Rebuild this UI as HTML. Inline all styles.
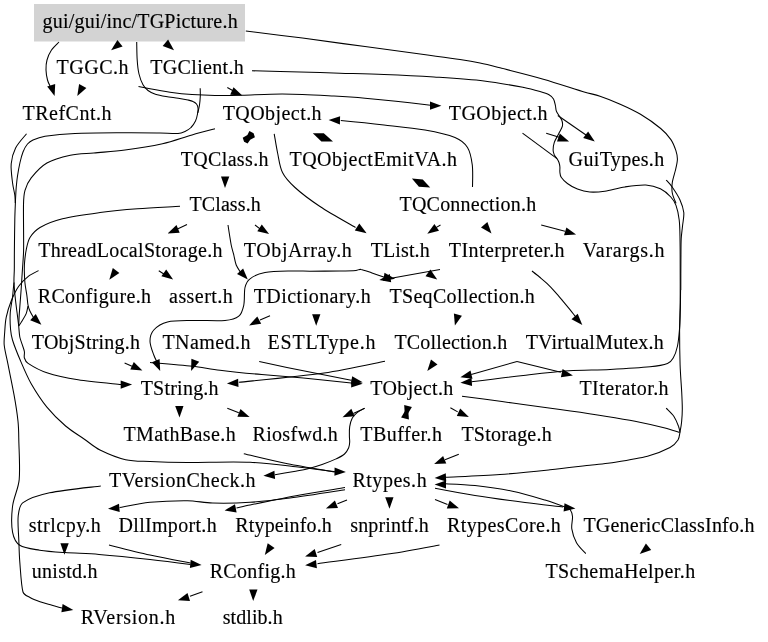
<!DOCTYPE html><html><head><meta charset="utf-8"><style>html,body{margin:0;padding:0;background:#fff}svg{display:block;will-change:transform}text{font-family:"Liberation Serif",serif;font-size:20.0px;fill:#000;stroke:#000;stroke-width:0.15px}path.e{fill:none;stroke:#000;stroke-width:1.05}polygon{fill:#000;stroke:none}</style></head><body>
<svg width="768" height="642" viewBox="0 0 768 642">
<rect x="0" y="0" width="768" height="642" fill="#fff"/>
<rect x="34" y="4" width="211" height="37.5" fill="#d3d3d3"/>
<path class="e" d="M59.0,42.0 C57.8,43.3 53.5,47.0 51.5,50.0 C49.5,53.0 47.9,56.7 47.0,60.0 C46.1,63.2 45.9,66.7 46.0,70.0 C46.1,73.3 46.8,77.2 47.5,80.0 C48.1,82.5 50.0,85.8 50.5,87.0"/>
<path class="e" d="M136.7,42.0 C136.8,45.0 136.8,54.7 137.2,60.0 C137.5,64.7 138.0,69.9 139.0,74.0 C139.9,77.7 141.5,82.0 143.0,84.8 C144.2,87.0 146.0,89.0 148.0,90.5 C150.1,92.1 152.8,93.3 155.4,94.2 C158.4,95.2 162.4,95.9 166.0,96.5 C169.8,97.2 174.6,97.7 178.3,98.3 C181.5,98.8 185.6,99.5 188.0,100.0 C189.7,100.4 191.6,100.8 193.0,101.5 C194.3,102.1 195.7,102.9 196.5,104.0 C197.3,105.1 197.9,106.6 198.0,108.0 C198.2,109.7 197.9,112.0 197.5,114.0 C197.1,116.2 196.6,118.8 195.5,121.0 C194.4,123.2 192.8,125.8 191.0,127.5 C189.3,129.2 187.2,130.5 185.0,131.5 C182.8,132.5 180.4,133.4 178.0,133.5 C173.8,133.8 166.0,133.1 160.0,133.0 C151.2,132.9 136.7,132.7 125.0,132.8 C110.8,132.9 88.3,132.9 75.0,133.5 C65.0,133.9 52.0,135.2 45.0,136.2 C40.9,136.9 35.9,138.7 33.0,140.0 C30.9,140.9 29.0,142.3 27.5,144.0 C25.8,146.0 24.1,149.2 23.0,152.0 C21.8,155.1 20.8,159.0 20.0,162.5 C19.1,166.5 18.1,171.8 17.5,176.0 C16.9,179.8 16.6,183.7 16.2,187.5 C15.9,191.5 15.7,195.8 15.5,200.0 C15.3,205.4 14.9,213.3 14.8,220.0 C14.6,228.3 14.5,241.7 14.4,250.0 C14.3,256.7 14.4,264.6 14.3,270.0 C14.2,274.2 13.8,278.3 14.0,282.5 C14.2,287.7 14.9,294.8 15.6,301.0 C16.3,307.2 17.5,315.8 18.0,320.0 C18.2,322.0 18.5,324.0 18.7,326.0 C19.0,328.8 19.2,333.8 19.8,337.0 C20.4,339.9 21.7,342.9 22.5,345.4 C23.2,347.5 24.1,349.6 24.4,351.7 C24.7,353.8 23.8,356.1 24.4,358.0 C25.0,359.9 26.3,362.2 28.1,363.4 C31.9,365.9 40.2,370.6 46.9,372.8 C55.2,375.5 67.6,378.1 78.1,379.8 C90.4,381.8 113.8,383.8 121.0,384.6"/>
<path class="e" d="M200.2,88.3 C200.2,89.6 200.4,93.4 200.3,96.0 C200.2,98.8 199.9,102.2 199.5,105.0 C199.1,107.7 198.1,111.7 197.8,113.0"/>
<path class="e" d="M138.5,86.5 C140.4,86.9 146.2,88.1 150.0,88.8 C155.2,89.8 163.3,91.3 170.0,92.2 C177.0,93.2 184.6,94.1 192.0,94.6 C199.5,95.1 207.3,95.4 215.0,95.5 C223.3,95.6 233.0,95.5 242.0,95.3 C251.3,95.1 261.3,94.3 271.0,94.2 C281.1,94.0 292.0,94.1 302.5,94.4 C313.0,94.7 323.6,95.4 334.0,96.0 C344.3,96.6 354.7,97.3 365.0,98.2 C375.3,99.1 385.7,100.1 396.0,101.2 C406.9,102.4 424.8,104.5 430.5,105.2"/>
<path class="e" d="M227.3,87.5 L233.5,91.0"/>
<path class="e" d="M245.8,31.0 C255.2,32.2 283.6,35.6 302.5,38.1 C322.4,40.7 344.2,43.8 365.0,46.6 C385.8,49.4 411.7,52.8 427.5,55.0 C438.3,56.5 451.2,58.2 460.0,59.6 C466.7,60.6 473.4,61.7 480.0,63.1 C486.9,64.5 494.5,66.5 501.7,68.3 C512.2,71.0 529.5,75.2 543.3,79.2 C557.2,83.2 575.5,89.4 585.0,92.2 C590.0,93.7 595.1,94.5 600.0,96.2 C605.9,98.2 613.6,101.2 620.2,104.2 C627.0,107.2 634.0,110.4 640.5,114.3 C647.2,118.3 655.6,124.3 660.7,128.5 C664.6,131.7 668.4,135.9 670.9,139.6 C673.2,142.9 674.8,147.4 675.9,150.7 C676.8,153.5 677.5,156.5 677.4,159.5 C677.3,162.7 676.3,166.5 675.5,170.0 C674.6,173.8 672.8,178.7 672.3,182.5 C671.8,186.0 671.7,189.6 672.3,193.0 C672.9,196.5 675.4,201.6 676.0,203.3"/>
<path class="e" d="M252.0,70.8 C260.0,71.0 285.3,71.6 300.0,72.0 C313.3,72.4 326.7,72.8 340.0,73.2 C354.0,73.6 369.3,73.9 384.0,74.5 C399.7,75.1 417.3,75.9 434.0,77.0 C450.7,78.1 469.0,79.2 484.0,81.0 C497.4,82.6 514.7,85.8 524.0,87.5 C529.4,88.5 535.8,90.3 540.0,91.5 C543.1,92.4 546.8,93.5 549.0,94.7 C550.8,95.7 552.5,97.2 553.5,99.0 C554.6,100.9 555.0,103.9 555.5,106.0 C555.9,107.8 555.7,109.8 556.5,111.5 C557.5,113.8 560.7,117.5 561.7,120.0 C562.5,121.9 562.8,124.2 562.4,126.2 C561.9,128.5 559.9,131.2 558.7,133.7 C557.4,136.4 555.2,139.7 554.3,142.4 C553.5,144.8 553.1,147.8 553.1,149.9 C553.1,151.6 553.6,153.3 554.3,154.9 C555.0,156.5 556.6,157.9 557.4,159.2 C558.0,160.2 558.6,161.3 559.0,162.5 C559.4,163.8 559.8,165.5 559.9,167.0 C560.0,168.6 559.7,170.6 559.9,172.3 C560.1,174.0 560.2,175.9 561.2,177.3 C562.5,179.2 565.0,181.8 567.4,183.5 C570.1,185.5 573.8,187.7 577.4,189.1 C581.1,190.5 585.6,191.7 589.8,192.0 C594.4,192.3 599.8,191.9 604.8,191.2 C610.7,190.3 618.2,187.9 625.0,186.9 C631.8,185.9 639.9,184.7 645.8,185.0 C650.8,185.3 656.2,186.8 660.4,188.8 C664.4,190.7 668.2,194.2 670.8,197.0 C673.1,199.4 674.9,202.3 676.0,205.4 C677.4,209.2 678.6,215.1 679.2,220.0 C679.9,225.6 679.9,232.5 680.0,238.8 C680.2,247.1 680.2,259.6 680.2,270.0 C680.2,280.7 680.3,292.7 680.2,303.0 C680.1,312.7 679.6,322.3 679.6,332.0 C679.6,342.3 679.8,355.0 680.1,365.0 C680.4,374.0 681.3,384.7 681.7,392.0 C682.0,397.7 682.3,404.0 682.3,409.0 C682.3,413.3 682.0,418.2 681.6,422.0 C681.3,425.4 680.3,430.3 680.0,432.0"/>
<path class="e" d="M680.6,290.0 C680.5,293.3 680.5,303.7 680.3,310.0 C680.1,316.0 680.1,322.0 679.6,328.0 C679.1,334.0 678.6,341.0 677.5,346.0 C676.6,350.2 674.9,355.1 673.2,358.0 C671.9,360.3 670.0,362.6 667.5,363.5 C663.6,365.0 655.9,366.2 650.0,366.8 C640.4,367.8 623.3,368.8 610.0,369.5 C596.5,370.2 582.6,369.9 569.0,370.8 C554.5,371.8 538.5,373.7 523.3,375.4 C507.0,377.2 480.1,380.6 471.5,381.7"/>
<path class="e" d="M680.0,432.0 C679.7,433.3 679.5,437.7 678.0,440.0 C676.3,442.6 673.2,445.8 670.0,447.5 C664.9,450.2 655.3,454.2 647.5,456.2 C637.5,458.8 619.2,461.5 610.0,463.0 C604.0,463.9 598.0,464.3 592.0,465.0 C582.0,466.1 564.0,468.4 550.0,469.8 C534.7,471.4 516.7,473.3 500.0,474.5 C482.6,475.8 454.6,476.8 445.5,477.3"/>
<path class="e" d="M462.0,396.2 C468.7,397.1 491.8,400.1 502.0,401.5 C509.1,402.5 516.2,403.6 523.3,404.6 C533.0,405.9 547.8,407.8 560.0,409.5 C572.4,411.2 585.0,413.0 597.5,415.0 C610.0,417.0 623.8,419.1 635.0,421.2 C645.1,423.2 657.6,426.1 665.0,428.0 C669.9,429.2 677.1,431.8 679.5,432.5"/>
<path class="e" d="M666.2,408.2 C667.5,409.6 671.7,413.2 673.8,416.2 C675.8,419.2 677.5,423.5 678.5,426.2 C679.3,428.2 679.8,431.5 680.0,432.5"/>
<path class="e" d="M666.2,180.0 C667.3,181.2 670.7,184.8 672.5,187.5 C674.8,190.8 678.1,195.8 680.0,200.0 C681.8,204.0 683.3,208.2 683.8,212.5 C684.2,216.9 682.9,221.9 682.5,226.2 C682.1,230.4 681.4,234.6 681.2,238.8 C680.9,244.4 681.0,252.9 680.9,260.0 C680.8,268.5 680.8,285.0 680.8,290.0"/>
<path class="e" d="M557.8,115.5 L586.0,135.0"/>
<path class="e" d="M546.2,133.2 L560.0,137.5"/>
<path class="e" d="M522.5,133.2 L557.0,158.7"/>
<path class="e" d="M472.5,187.0 C472.5,183.3 473.1,171.6 472.3,165.0 C471.5,159.0 470.4,152.1 467.5,147.5 C464.7,143.0 459.9,139.5 455.0,137.5 C447.9,134.6 435.2,131.8 425.0,130.0 C413.2,127.9 397.7,126.5 384.0,125.0 C370.0,123.4 348.0,121.2 340.8,120.5"/>
<path class="e" d="M274.2,133.8 C274.8,136.9 276.2,146.3 277.5,152.5 C278.9,159.0 279.6,166.7 282.5,172.5 C285.4,178.3 290.2,183.1 295.0,187.5 C301.2,193.2 311.3,200.7 320.0,206.5 C330.1,213.2 349.6,224.0 355.5,227.5"/>
<path class="e" d="M215.0,128.8 C211.2,129.8 199.6,132.8 192.0,135.0 C183.2,137.5 172.5,141.5 162.5,143.8 C151.3,146.2 136.5,148.5 125.0,150.0 C114.6,151.4 102.9,152.1 93.8,153.0 C85.9,153.7 78.0,153.6 70.3,155.2 C62.5,156.9 53.4,159.2 46.9,163.0 C40.7,166.6 34.9,173.2 31.2,177.8 C28.3,181.4 26.3,185.9 25.0,190.3 C23.7,194.7 23.6,199.7 23.5,204.4 C23.3,214.3 23.8,239.1 23.6,250.0 C23.5,256.7 22.8,263.6 22.4,270.0 C22.0,276.2 21.6,282.5 21.2,288.7 C20.7,296.0 19.7,307.4 19.3,313.6 C19.0,317.7 18.8,323.9 18.7,326.0"/>
<path class="e" d="M180.0,206.2 C172.9,206.7 150.8,207.7 137.5,208.8 C125.0,209.7 112.5,210.8 100.0,212.5 C87.5,214.2 72.5,216.2 62.5,218.8 C54.7,220.7 45.4,224.4 40.0,227.5 C35.9,229.9 32.3,233.8 30.0,237.5 C27.7,241.2 27.1,245.9 26.2,250.0 C25.4,253.9 24.9,258.7 24.6,262.0 C24.3,264.7 24.3,267.3 24.3,270.0 C24.4,273.4 24.5,278.3 24.9,282.5 C25.3,286.7 26.3,291.2 26.8,295.0 C27.3,298.3 27.5,302.3 28.0,305.0 C28.4,307.1 29.0,309.1 29.9,311.0 C30.9,313.2 33.1,316.8 33.8,318.0"/>
<path class="e" d="M28.0,306.0 C27.7,307.3 27.2,311.2 26.2,313.6 C25.1,316.3 22.4,320.2 21.2,322.3 C20.4,323.6 19.1,325.4 18.7,326.0"/>
<path class="e" d="M26.5,133.8 C24.7,136.1 18.1,143.0 15.6,148.0 C13.1,152.9 11.7,158.3 11.2,163.8 C10.7,169.5 11.9,177.3 12.5,182.5 C13.0,186.7 14.3,191.6 14.8,195.0 C15.2,197.6 15.2,201.7 15.3,203.0"/>
<path class="e" d="M14.0,282.5 C13.9,283.8 13.4,287.5 13.2,290.0 C13.0,292.5 12.8,294.9 12.5,297.4 C12.0,301.3 10.5,308.2 10.2,313.6 C9.9,319.0 10.2,325.4 10.6,329.8 C10.9,333.2 11.5,336.7 12.5,340.0 C14.1,345.1 17.4,353.6 20.3,360.3 C23.4,367.6 27.0,376.2 31.2,383.8 C35.7,391.6 41.2,400.2 46.9,407.2 C52.5,414.1 59.3,420.7 65.6,426.0 C71.4,431.0 78.7,435.2 84.4,439.2 C89.6,442.8 94.3,447.2 100.0,450.0 C106.9,453.4 117.3,457.8 125.6,459.7 C133.5,461.5 141.9,461.1 150.0,461.5 C160.3,462.0 175.0,462.4 187.5,462.5 C204.2,462.6 231.2,461.5 250.0,462.3 C266.7,463.0 285.8,465.7 300.0,467.3 C311.7,468.6 329.2,471.0 335.0,471.7"/>
<path class="e" d="M38.6,270.6 C36.9,271.5 31.6,273.8 28.6,276.2 C25.3,278.8 21.4,282.4 18.7,286.2 C15.8,290.3 13.3,295.9 11.2,301.0 C9.1,306.2 7.3,312.1 6.2,317.3 C5.2,322.2 5.0,327.7 4.7,332.3 C4.4,336.5 3.8,340.8 4.2,345.0 C4.7,350.2 6.6,357.3 7.8,363.4 C9.4,371.7 12.3,385.1 14.0,394.7 C15.6,403.5 17.2,413.7 18.0,421.2 C18.7,427.5 18.7,433.7 18.8,440.0 C19.0,449.7 20.2,468.6 19.2,479.6 C18.4,488.6 13.7,497.2 12.6,506.0 C11.5,514.7 11.4,525.9 12.6,532.4 C13.5,537.2 15.7,542.6 19.8,545.3 C24.3,548.3 33.0,549.1 39.7,550.2 C47.2,551.4 56.5,552.0 65.0,552.6 C74.9,553.3 87.7,553.5 99.0,554.4 C113.2,555.5 134.8,557.7 150.0,559.4 C163.5,560.9 183.8,563.6 190.5,564.5"/>
<path class="e" d="M100.8,486.0 C92.3,487.1 62.6,490.0 49.6,492.8 C40.3,494.8 28.2,498.8 23.0,502.7 C19.2,505.5 18.7,511.3 18.2,516.0 C17.5,522.2 18.5,532.3 18.8,540.0 C19.1,547.3 19.2,554.7 19.8,562.0 C20.5,570.7 21.3,586.1 23.0,592.0 C23.8,594.9 27.4,596.0 30.0,597.5 C32.8,599.1 36.6,600.5 40.0,601.7 C43.7,603.0 48.3,604.2 52.0,605.3 C55.3,606.3 60.3,607.5 62.0,608.0"/>
<path class="e" d="M109.0,545.0 C115.8,546.7 136.4,552.0 150.0,555.0 C163.4,558.0 183.8,561.7 190.5,563.0"/>
<path class="e" d="M345.0,489.7 C335.8,491.1 305.8,495.9 290.0,498.0 C276.7,499.8 262.9,501.5 250.0,502.3 C237.5,503.1 222.9,503.3 212.5,503.0 C204.1,502.8 195.9,500.8 187.5,500.7 C177.1,500.6 161.3,501.2 150.0,502.3 C139.8,503.3 124.7,506.6 119.6,507.5"/>
<path class="e" d="M345.0,487.5 C337.5,488.8 315.0,492.2 300.0,495.0 C284.2,497.9 260.6,502.8 250.0,505.0 C245.5,505.9 238.8,507.5 236.5,508.0"/>
<path class="e" d="M347.0,500.0 L337.5,503.8"/>
<path class="e" d="M435.0,499.5 L447.5,504.5"/>
<path class="e" d="M435.0,488.2 C441.7,489.5 461.6,493.4 475.0,495.5 C490.0,497.9 510.3,500.6 525.0,502.5 C537.6,504.2 556.7,506.2 563.0,507.0"/>
<path class="e" d="M585.8,553.7 C584.2,551.9 578.8,546.9 576.5,542.8 C574.2,538.7 572.5,533.3 571.8,528.9 C571.2,524.8 572.8,519.7 572.5,516.5 C572.3,514.1 571.3,511.2 570.3,509.7 C569.4,508.4 567.7,508.0 566.2,507.5 C562.0,505.9 552.2,502.2 545.0,500.0 C536.0,497.3 523.5,493.5 512.5,491.2 C500.8,488.8 486.2,486.8 475.0,485.5 C465.2,484.4 450.4,484.0 445.5,483.8"/>
<path class="e" d="M458.8,454.2 L445.0,459.8"/>
<path class="e" d="M243.8,453.8 C251.0,455.4 272.8,460.8 287.5,463.8 C302.6,466.8 326.7,470.6 334.5,472.0"/>
<path class="e" d="M364.2,408.4 C363.0,409.1 359.1,411.0 357.1,412.6 C355.2,414.2 353.4,416.0 352.2,418.2 C351.0,420.5 350.1,423.7 349.7,426.6 C349.2,429.7 349.4,433.9 349.4,436.5 C349.4,438.3 349.8,440.2 349.7,442.0 C349.6,443.9 349.5,445.9 348.7,447.7 C347.8,449.7 346.4,452.3 344.5,454.0 C342.4,455.9 339.0,457.5 336.1,458.9 C332.4,460.6 326.8,462.9 322.1,464.5 C317.5,466.1 312.7,467.5 308.0,468.7 C303.4,469.9 298.7,470.6 294.0,471.5 C288.5,472.5 278.2,474.2 275.0,474.7"/>
<path class="e" d="M364.8,408.3 L353.3,413.5"/>
<path class="e" d="M450.4,407.7 L457.7,411.9"/>
<path class="e" d="M227.3,408.3 L238.8,412.8"/>
<path class="e" d="M124.6,363.0 L132.0,366.3"/>
<path class="e" d="M150.0,362.5 C157.1,363.1 180.8,365.0 192.5,366.2 C201.7,367.3 210.8,369.1 220.0,370.2 C231.5,371.6 247.8,373.3 261.7,374.6 C275.6,375.9 289.4,376.8 303.3,378.1 C318.2,379.5 343.3,382.1 351.2,382.9"/>
<path class="e" d="M259.2,361.5 C266.6,363.1 288.6,367.8 303.3,370.8 C318.6,373.9 343.3,378.6 351.2,380.2"/>
<path class="e" d="M384.4,277.2 C382.3,276.5 375.9,274.3 372.0,273.0 C368.3,271.8 363.7,269.8 361.0,269.4 C359.3,269.1 357.7,270.3 356.0,270.4 C352.5,270.7 345.3,270.9 340.0,271.0 C332.3,271.1 317.9,271.2 310.0,271.2 C304.2,271.2 298.3,270.8 292.5,271.0 C285.0,271.2 272.1,271.2 265.0,272.5 C259.7,273.5 253.3,276.2 250.0,278.8 C247.3,280.8 245.8,284.2 245.0,287.5 C244.0,291.9 244.8,300.2 243.8,305.0 C242.9,309.0 241.9,313.7 238.8,316.2 C235.6,318.8 229.8,320.1 225.0,320.5 C217.3,321.2 202.1,320.2 192.5,320.5 C184.2,320.7 174.0,320.4 167.5,322.0 C162.3,323.3 156.7,326.8 153.8,330.0 C151.1,332.9 150.0,337.3 150.0,341.2 C150.0,345.4 152.5,351.4 153.8,355.0 C154.7,357.8 156.9,361.7 157.5,363.0"/>
<path class="e" d="M440.0,269.5 L392.5,278.0"/>
<path class="e" d="M228.0,225.0 C228.5,228.3 230.3,240.0 231.2,245.0 C231.9,248.4 232.9,251.7 233.8,255.0 C234.6,258.3 235.0,262.0 236.2,265.0 C237.4,267.9 240.2,271.7 241.0,273.0"/>
<path class="e" d="M187.0,224.5 L177.5,229.0"/>
<path class="e" d="M255.0,225.0 L260.0,228.8"/>
<path class="e" d="M440.5,225.0 L436.0,227.6"/>
<path class="e" d="M541.2,225.0 L565.0,231.2"/>
<path class="e" d="M532.0,271.0 C533.2,272.0 537.0,275.0 539.5,277.0 C542.0,279.1 544.5,281.1 546.9,283.4 C549.5,285.9 552.4,288.9 555.0,291.8 C557.6,294.7 560.0,297.6 562.5,300.6 C565.0,303.6 567.8,307.0 570.0,309.7 C571.9,312.0 574.6,315.5 575.5,316.6"/>
<path class="e" d="M270.0,315.8 L260.0,320.0"/>
<path class="e" d="M385.0,361.2 C374.8,363.2 344.5,370.0 324.0,373.0 C299.6,376.5 253.0,380.8 238.8,382.3"/>
<path class="e" d="M517.0,361.5 L471.2,374.4"/>
<path class="e" d="M517.0,361.5 L560.8,372.3"/>
<path class="e" d="M158.8,270.8 L163.8,274.0"/>
<path class="e" d="M341.2,544.5 L317.5,552.5"/>
<path class="e" d="M439.5,545.0 C431.2,546.5 406.6,551.2 390.0,553.8 C369.7,556.9 329.6,562.1 317.5,563.8"/>
<path class="e" d="M202.5,591.8 L190.0,596.2"/>
<polygon points="54.6,96.1 47.2,86.5 55.2,84.0"/>
<polygon points="111.1,50.3 117.4,39.9 122.6,46.4"/>
<polygon points="174.0,50.3 162.7,45.9 168.1,39.6"/>
<polygon points="77.3,96.1 79.1,84.1 86.4,88.1"/>
<polygon points="132.1,384.6 120.7,388.8 120.7,380.5"/>
<polygon points="441.4,105.8 430.0,109.8 430.0,101.5"/>
<polygon points="242.3,95.6 230.2,94.8 233.5,87.2"/>
<polygon points="460.4,382.7 471.5,377.8 472.1,386.1"/>
<polygon points="434.6,478.0 445.8,473.3 446.2,481.6"/>
<polygon points="594.8,141.5 583.2,138.1 588.1,131.4"/>
<polygon points="569.1,141.4 557.0,141.5 559.8,133.6"/>
<polygon points="328.6,120.0 340.1,116.2 339.9,124.5"/>
<polygon points="366.6,233.2 354.8,230.5 359.3,223.5"/>
<polygon points="41.4,324.8 30.2,320.2 35.8,314.0"/>
<polygon points="345.9,472.0 334.4,475.8 334.6,467.5"/>
<polygon points="201.6,565.0 189.9,568.1 190.7,559.8"/>
<polygon points="73.3,609.9 61.4,612.3 62.6,604.1"/>
<polygon points="64.4,554.7 60.4,543.3 68.7,543.3"/>
<polygon points="108.0,508.8 119.0,503.7 119.7,512.0"/>
<polygon points="224.6,510.4 235.0,504.2 236.6,512.4"/>
<polygon points="325.9,508.6 334.9,500.4 338.0,508.1"/>
<polygon points="389.5,508.7 385.2,497.3 393.5,497.3"/>
<polygon points="459.0,508.3 446.8,508.4 449.7,500.6"/>
<polygon points="575.4,508.6 563.6,511.5 564.5,503.2"/>
<polygon points="434.6,484.5 446.0,480.4 446.0,488.6"/>
<polygon points="639.7,554.0 645.9,543.6 651.2,550.0"/>
<polygon points="434.1,464.1 443.1,455.9 446.3,463.6"/>
<polygon points="263.4,475.8 274.4,470.7 275.1,479.0"/>
<polygon points="342.5,417.2 351.3,408.7 354.6,416.3"/>
<polygon points="408.0,406.0 401.1,417.5 408.9,419.5"/>
<polygon points="405.0,418.5 404.2,405.0 411.9,407.0"/>
<polygon points="468.9,417.0 456.8,416.1 460.2,408.5"/>
<polygon points="179.5,417.4 175.2,406.0 183.5,406.0"/>
<polygon points="249.6,417.0 237.4,416.7 240.5,409.0"/>
<polygon points="142.4,370.6 130.3,369.6 133.8,362.0"/>
<polygon points="362.7,382.3 350.8,384.4 352.2,376.2"/>
<polygon points="362.7,383.8 351.1,387.5 351.5,379.2"/>
<polygon points="191.1,370.9 191.4,358.7 199.2,361.8"/>
<polygon points="160.2,371.1 151.9,362.2 159.6,359.0"/>
<polygon points="395.1,278.8 383.2,281.0 384.5,272.8"/>
<polygon points="379.3,280.1 389.8,274.0 391.2,282.2"/>
<polygon points="437.2,279.5 425.5,276.3 430.4,269.5"/>
<polygon points="247.8,279.5 237.0,274.0 243.1,268.4"/>
<polygon points="167.6,233.4 176.5,225.1 179.7,232.7"/>
<polygon points="269.1,234.1 257.3,231.3 261.8,224.4"/>
<polygon points="225.0,188.0 221.0,176.6 229.3,176.6"/>
<polygon points="427.3,233.7 434.4,223.9 439.0,230.8"/>
<polygon points="491.5,233.5 481.0,227.4 487.4,222.1"/>
<polygon points="576.1,234.6 564.0,235.3 566.4,227.4"/>
<polygon points="582.3,324.9 571.5,319.2 577.7,313.7"/>
<polygon points="454.9,325.6 453.9,313.5 461.9,315.7"/>
<polygon points="249.1,325.4 257.3,316.4 261.2,323.7"/>
<polygon points="316.2,325.7 312.1,314.3 320.4,314.3"/>
<polygon points="427.3,370.9 431.0,359.4 437.5,364.5"/>
<polygon points="226.9,383.5 238.1,378.8 238.5,387.0"/>
<polygon points="460.4,377.3 470.5,370.6 472.5,378.7"/>
<polygon points="572.9,375.6 560.9,377.2 562.6,369.1"/>
<polygon points="109.3,279.7 112.8,268.1 119.4,273.1"/>
<polygon points="173.1,279.6 161.4,276.3 166.2,269.6"/>
<polygon points="264.8,555.0 267.7,543.3 274.6,547.9"/>
<polygon points="305.1,556.5 314.7,549.0 317.2,556.9"/>
<polygon points="305.1,565.3 316.0,559.9 316.9,568.2"/>
<polygon points="177.9,600.3 187.5,592.9 190.0,600.9"/>
<polygon points="253.2,601.0 249.2,589.6 257.5,589.6"/>
<polygon points="312.8,133.2 323.8,133.2 333.0,141.5 321.4,141.5"/>
<polygon points="411.9,178.6 422.8,179.4 430.2,187.6 418.9,186.8"/>
<polygon points="249.4,131.1 253.6,133.3 254.9,137.2 250.2,139.8 247.6,143.6 244.1,141.8 242.7,137.8 247.4,134.9"/>
<text x="42.53" y="28" style="letter-spacing:0.21px">gui/gui/inc/TGPicture.h</text>
<text x="56.44" y="74" style="letter-spacing:0.54px">TGGC.h</text>
<text x="150.23" y="74" style="letter-spacing:0.34px">TGClient.h</text>
<text x="22.45" y="120" style="letter-spacing:0.51px">TRefCnt.h</text>
<text x="222.65" y="120" style="letter-spacing:0.44px">TQObject.h</text>
<text x="448.85" y="120" style="letter-spacing:0.42px">TGObject.h</text>
<text x="180.65" y="166" style="letter-spacing:0.36px">TQClass.h</text>
<text x="289.44" y="166" style="letter-spacing:0.50px">TQObjectEmitVA.h</text>
<text x="568.60" y="166" style="letter-spacing:0.35px">GuiTypes.h</text>
<text x="189.44" y="211" style="letter-spacing:0.11px">TClass.h</text>
<text x="399.44" y="211" style="letter-spacing:0.23px">TQConnection.h</text>
<text x="38.24" y="257" style="letter-spacing:0.32px">ThreadLocalStorage.h</text>
<text x="243.85" y="257" style="letter-spacing:0.58px">TObjArray.h</text>
<text x="370.65" y="257" style="letter-spacing:0.13px">TList.h</text>
<text x="448.85" y="257" style="letter-spacing:0.40px">TInterpreter.h</text>
<text x="582.79" y="257" style="letter-spacing:0.76px">Varargs.h</text>
<text x="37.71" y="303" style="letter-spacing:0.35px">RConfigure.h</text>
<text x="169.07" y="303" style="letter-spacing:0.44px">assert.h</text>
<text x="253.65" y="303" style="letter-spacing:0.47px">TDictionary.h</text>
<text x="389.44" y="303" style="letter-spacing:0.32px">TSeqCollection.h</text>
<text x="31.85" y="349" style="letter-spacing:0.22px">TObjString.h</text>
<text x="162.44" y="349" style="letter-spacing:0.44px">TNamed.h</text>
<text x="267.56" y="349" style="letter-spacing:0.82px">ESTLType.h</text>
<text x="394.44" y="349" style="letter-spacing:0.18px">TCollection.h</text>
<text x="525.65" y="349" style="letter-spacing:0.23px">TVirtualMutex.h</text>
<text x="140.65" y="395" style="letter-spacing:0.23px">TString.h</text>
<text x="370.24" y="395" style="letter-spacing:0.37px">TObject.h</text>
<text x="579.44" y="395" style="letter-spacing:0.42px">TIterator.h</text>
<text x="123.44" y="441" style="letter-spacing:0.39px">TMathBase.h</text>
<text x="252.55" y="441" style="letter-spacing:0.30px">Riosfwd.h</text>
<text x="360.24" y="441" style="letter-spacing:0.49px">TBuffer.h</text>
<text x="461.44" y="441" style="letter-spacing:0.21px">TStorage.h</text>
<text x="109.04" y="487" style="letter-spacing:0.51px">TVersionCheck.h</text>
<text x="352.44" y="487" style="letter-spacing:0.52px">Rtypes.h</text>
<text x="28.67" y="532" style="letter-spacing:0.51px">strlcpy.h</text>
<text x="118.56" y="532" style="letter-spacing:0.31px">DllImport.h</text>
<text x="235.35" y="532" style="letter-spacing:0.15px">Rtypeinfo.h</text>
<text x="350.25" y="532" style="letter-spacing:0.15px">snprintf.h</text>
<text x="446.96" y="532" style="letter-spacing:0.40px">RtypesCore.h</text>
<text x="583.45" y="532" style="letter-spacing:0.21px">TGenericClassInfo.h</text>
<text x="31.78" y="578" style="letter-spacing:0.28px">unistd.h</text>
<text x="209.71" y="578" style="letter-spacing:0.27px">RConfig.h</text>
<text x="545.44" y="578" style="letter-spacing:0.42px">TSchemaHelper.h</text>
<text x="80.85" y="624" style="letter-spacing:0.73px">RVersion.h</text>
<text x="222.68" y="624" style="letter-spacing:0.08px">stdlib.h</text>
</svg></body></html>
